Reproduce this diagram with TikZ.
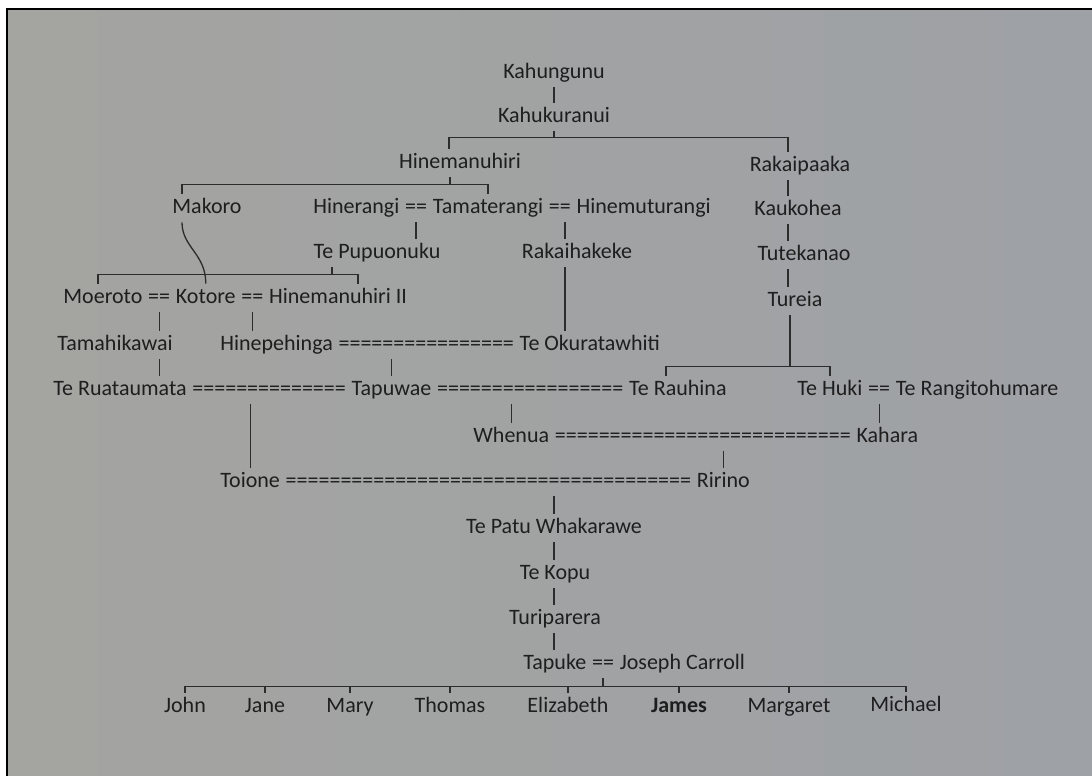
\documentclass[tikz,border=0pt]{standalone}
\usepackage{fontspec}
\setmainfont{Carlito}
\usetikzlibrary{positioning}
\definecolor{ink}{RGB}{30,30,30}
\definecolor{rule}{RGB}{44,44,44}
\definecolor{paperL}{RGB}{164,164,161}
\definecolor{paperR}{RGB}{158,161,166}
\newcommand{\marr}[1]{\foreach\k in {1,...,#1}{=}}
\tikzset{
  person/.style={text=ink, font=\fontsize{11}{13}\selectfont, inner xsep=1.25pt, inner ysep=1.5pt, text height=8.25pt, text depth=2.75pt},
  link/.style={draw=rule, line width=.65pt},
}

\begin{document}
\begin{tikzpicture}[x=0.5pt, y=-0.5pt]
  % page
  \useasboundingbox (0,0) rectangle (1092,776);
  \fill[white] (-4,-4) rectangle (1096,780);
  \shade[left color=paperL, right color=paperR] (7,9) rectangle (1096,780);
  \draw[line width=1pt] (7,780) -- (7,8.5) -- (1096,8.5);

  % top of the line
  \node[person] (kahungunu) at (554,73) {Kahungunu};
  \node[person] (kahukuranui) at (554,117) {Kahukuranui};
  \node[person] (hinemanuhiri) at (460,163) {Hinemanuhiri};
  \node[person] (rakaipaaka) at (800,166) {Rakaipaaka};
  \node[person] (makoro) at (207,208) {Makoro};
  \node[person, anchor=west] (hinerangi) at (310.5,208) {Hinerangi};
  \node[person, right=0pt of hinerangi] (eqHT) {==};
  \node[person, right=0pt of eqHT] (tamaterangi) {Tamaterangi};
  \node[person, right=0pt of tamaterangi] (eqTH) {==};
  \node[person, right=0pt of eqTH] (hinemuturangi) {Hinemuturangi};
  \node[person] (kaukohea) at (798,210) {Kaukohea};
  \node[person] (pupuonuku) at (377,253) {Te Pupuonuku};
  \node[person] (rakaihakeke) at (577,253) {Rakaihakeke};
  \node[person] (tutekanao) at (804,255) {Tutekanao};
  \node[person] (tureia) at (795,301) {Tureia};

  % middle generations
  \node[person, anchor=west] (moeroto) at (60.5,298) {Moeroto};
  \node[person, right=0pt of moeroto] (eqMK) {==};
  \node[person, right=0pt of eqMK] (kotore) {Kotore};
  \node[person, right=0pt of kotore] (eqKH) {==};
  \node[person, right=0pt of eqKH] (hinemanuhiriII) {Hinemanuhiri II};
  \node[person] (tamahikawai) at (115,345) {Tamahikawai};
  \node[person, anchor=west] (hinepehinga) at (217.5,345) {Hinepehinga};
  \node[person, right=0pt of hinepehinga] (eqHO) {\marr{16}};
  \node[person, right=0pt of eqHO] (okuratawhiti) {Te Okuratawhiti};
  \node[person, anchor=west] (ruataumata) at (50.5,390) {Te Ruataumata};
  \node[person, right=0pt of ruataumata] (eqRT) {\marr{14}};
  \node[person, right=0pt of eqRT] (tapuwae) {Tapuwae};
  \node[person, right=0pt of tapuwae] (eqTR) {\marr{17}};
  \node[person, right=0pt of eqTR] (rauhina) {Te Rauhina};
  \node[person, anchor=west] (tehuki) at (794.5,390) {Te Huki};
  \node[person, right=0pt of tehuki] (eqHR) {==};
  \node[person, right=0pt of eqHR] (rangitohumare) {Te Rangitohumare};
  \node[person, anchor=west] (whenua) at (470.5,437) {Whenua};
  \node[person, right=0pt of whenua] (eqWK) {\marr{27}};
  \node[person, right=0pt of eqWK] (kahara) {Kahara};
  \node[person, anchor=west] (toione) at (217.5,482) {Toione};
  \node[person, right=0pt of toione] (eqTRi) {\marr{37}};
  \node[person, right=0pt of eqTRi] (ririno) {Ririno};

  % down to Tapuke
  \node[person] (patu) at (554,528) {Te Patu Whakarawe};
  \node[person] (kopu) at (555,574) {Te Kopu};
  \node[person] (turiparera) at (555,619) {Turiparera};
  \node[person, anchor=west] (tapuke) at (520.5,664) {Tapuke};
  \node[person, right=0pt of tapuke] (eqTJ) {==};
  \node[person, right=0pt of eqTJ] (carroll) {Joseph Carroll};

  % children
  \node[person] (john) at (185,707) {John};
  \node[person] (jane) at (265,707) {Jane};
  \node[person] (mary) at (350,707) {Mary};
  \node[person] (thomas) at (450,707) {Thomas};
  \node[person] (elizabeth) at (568,707) {Elizabeth};
  \node[person] (james) at (679,707) {\bfseries James};
  \node[person] (margaret) at (789,707) {Margaret};
  \node[person] (michael) at (906,706) {Michael};

  % descent lines
  \draw[link] (kahungunu.south) -- (kahungunu.south |- kahukuranui.north);
  \draw[link] (kahukuranui.south) -- ++(0,6) coordinate (barKa);
  \draw[link] ([xshift=-5.5pt]hinemanuhiri.north) |- (barKa) -| ([xshift=-6pt]rakaipaaka.north);
  \draw[link] ([xshift=-5pt]hinemanuhiri.south) -- ++(0,7) coordinate (barHi);
  \draw[link] ([xshift=-12.5pt]makoro.north) |- (barHi) -| (tamaterangi.north);
  \draw[link] ([xshift=-12.5pt]makoro.south) .. controls +(0,25) and +(0,-30) .. (kotore.north);
  \draw[link] (eqHT.south) -- (eqHT.south |- pupuonuku.north);
  \coordinate (colK) at ([xshift=-6pt]rakaihakeke.north);
  \draw[link] (colK |- eqTH.south) -- (colK);
  \draw[link] (colK |- rakaihakeke.south) -- (colK |- okuratawhiti.north);
  \coordinate (colR) at ([xshift=-6pt]rakaipaaka.south);
  \draw[link] (colR) -- (colR |- kaukohea.north);
  \draw[link] (colR |- kaukohea.south) -- (colR |- tutekanao.north);
  \draw[link] (colR |- tutekanao.south) -- (colR |- tureia.north);
  \draw[link] ([xshift=-2.5pt]tureia.south) -- ++(0,51) coordinate (barTu);
  \draw[link] ([xshift=-6pt]rauhina.north) |- (barTu) -| (tehuki.north);
  \draw[link] ([xshift=-22.5pt]pupuonuku.south) -- ++(0,7) coordinate (barPu);
  \draw[link] ([xshift=-2.5pt]moeroto.north) |- (barPu) -| ([xshift=10pt]hinemanuhiriII.north);
  \draw[link] (eqMK.south) -- (eqMK.south |- tamahikawai.north);
  \draw[link] (eqMK.south |- tamahikawai.south) -- (eqMK.south |- ruataumata.north);
  \draw[link] (eqKH.south) -- (eqKH.south |- hinepehinga.north);
  \draw[link] (tapuwae.north |- eqHO.south) -- (tapuwae.north);
  \draw[link] (whenua.north |- eqTR.south) -- (whenua.north);
  \draw[link] (eqHR.south) -- (eqHR.south |- kahara.north);
  \draw[link] (toione.north |- eqRT.south) -- (toione.north);
  \draw[link] (ririno.north |- eqWK.south) -- (ririno.north);
  \draw[link] (patu.north |- eqTRi.south) -- (patu.north);
  \draw[link] (patu.south) -- (patu.south |- kopu.north);
  \draw[link] (patu.south |- kopu.south) -- (patu.south |- turiparera.north);
  \draw[link] (patu.south |- turiparera.south) -- (patu.south |- tapuke.north);
  \draw[link] (eqTJ.south) -- ++(0,8) coordinate (barTa);
  \draw[link] (john.north) |- (barTa) -| (michael.north);
  \foreach \c in {jane,mary,thomas,elizabeth,james,margaret}
    \draw[link] (\c.north) -- (\c.north |- barTa);
\end{tikzpicture}
\end{document}
